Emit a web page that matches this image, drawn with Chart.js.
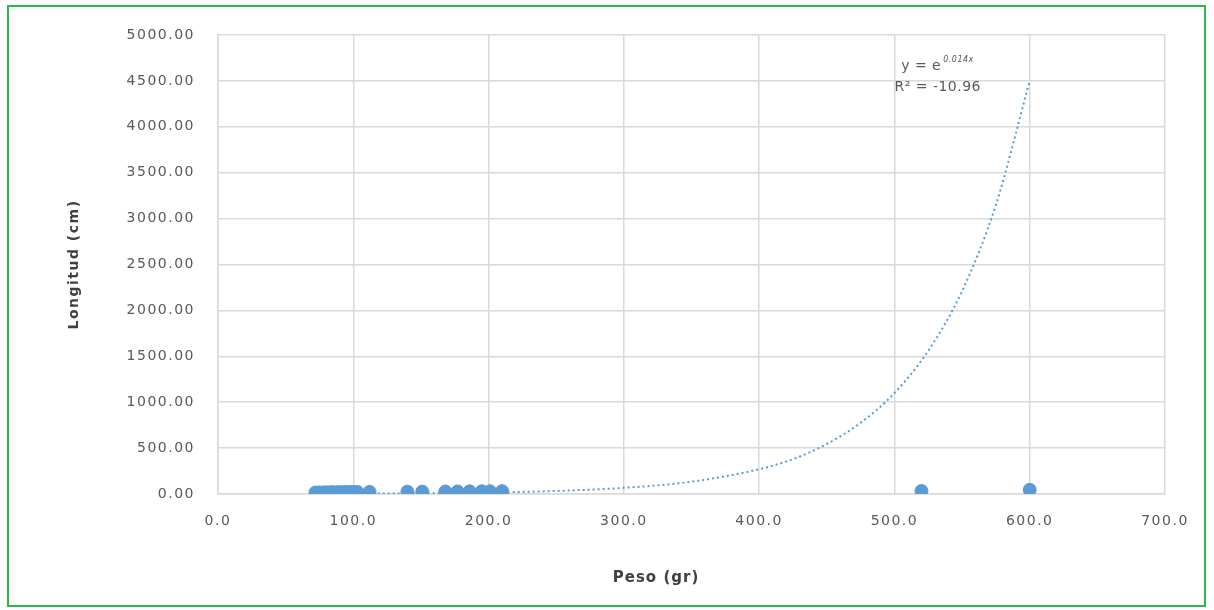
<!DOCTYPE html>
<html>
<head>
<meta charset="utf-8">
<script src="https://cdn.jsdelivr.net/npm/chart.js@4.4.1/dist/chart.umd.min.js"></script>
<style>
    html, body { margin: 0; padding: 0; background: #fff; }
    #wrap { position: relative; width: 1214px; height: 610px; }
    #frame {
        position: absolute; left: 7px; top: 5px;
        width: 1195px; height: 598px;
        border: 2px solid #2db84d; pointer-events: none;
    }
    canvas { position: absolute; left: 0; top: 0; }
</style>
</head>
<body>
<div id="wrap">
    <canvas id="peso-chart" width="1214" height="610"></canvas>
    <div id="frame"></div>
</div>
<script>
// datos medidos: peso (gr) y longitud (cm)
const pesoGr = [72, 75, 78, 80, 83, 85, 88, 90, 93, 95, 98, 100, 103, 112, 140, 151, 168, 177, 186, 195, 201, 210, 520, 600];
const longitudCm = [16, 17, 17, 18, 18, 19, 19, 20, 20, 21, 21, 22, 22, 23, 25, 26, 27, 28, 29, 30, 30, 31, 33, 45];

// linea de tendencia exponencial
const trendPeso = [70, 100, 150, 200, 250, 300, 350, 400, 425, 450, 475, 500, 525, 550, 575, 600];
const trendLongitud = [3, 4, 8, 16, 33, 67, 134, 270, 380, 545, 775, 1100, 1560, 2210, 3150, 4500];

const trendEquation = "y = e";
const trendExponent = "0.014x";
const trendR2 = "R² = -10.96";
const xTitle = "Peso (gr)";
const yTitle = "Longitud (cm)";

const BLUE = "#5B9BD5";
const GRID = "#d9d9d9";
const TEXT = "#595959";
const FONT = "'DejaVu Sans', sans-serif";

const spacingPlugin = {
    id: "spacing",
    beforeUpdate: (chart) => { chart.ctx.letterSpacing = "1.5px"; },
    beforeDraw: (chart) => { chart.ctx.letterSpacing = "1.5px"; },
};

const notesPlugin = {
    id: "notes",
    afterDraw: (chart) => {
        const ctx = chart.ctx;
        const xs = chart.scales.x;
        const ys = chart.scales.y;
        ctx.save();
        ctx.letterSpacing = "0.5px";
        ctx.fillStyle = TEXT;
        ctx.textBaseline = "middle";
        ctx.textAlign = "left";
        ctx.font = "14px " + FONT;
        const eqX = xs.getPixelForValue(505);
        const eqY = ys.getPixelForValue(4660);
        ctx.fillText(trendEquation, eqX, eqY);
        const w = ctx.measureText(trendEquation).width;
        ctx.font = "italic 8px " + FONT;
        ctx.fillText(trendExponent, eqX + w + 2, eqY - 6);
        ctx.font = "14px " + FONT;
        ctx.fillText(trendR2, xs.getPixelForValue(500), ys.getPixelForValue(4430));

        ctx.letterSpacing = "1px";
        ctx.font = "bold 15px " + FONT;
        ctx.textAlign = "center";
        ctx.fillStyle = "#404040";
        ctx.fillText(xTitle, 656, 578);
        ctx.restore();
    },
};

const chart = new Chart(document.getElementById("peso-chart"), {
    type: "scatter",
    data: {
        datasets: [
            {
                label: "Longitud",
                data: pesoGr.map((p, i) => ({ x: p, y: longitudCm[i] })),
                backgroundColor: BLUE,
                borderColor: BLUE,
                pointRadius: 6.5,
                order: 1,
            },
            {
                label: "Tendencia",
                type: "line",
                data: trendPeso.map((p, i) => ({ x: p, y: trendLongitud[i] })),
                borderColor: BLUE,
                borderWidth: 2,
                borderDash: [2, 3],
                pointRadius: 0,
                fill: false,
                cubicInterpolationMode: "monotone",
                order: 0,
            },
        ],
    },
    options: {
        responsive: false,
        animation: false,
        layout: {
            padding: { left: 62, right: 49, top: 35, bottom: 19 },
        },
        plugins: {
            legend: { display: false },
            tooltip: { enabled: false },
        },
        scales: {
            x: {
                type: "linear",
                min: 0,
                max: 700,
                ticks: {
                    stepSize: 100,
                    padding: 19,
                    color: TEXT,
                    font: { family: FONT, size: 14 },
                    callback: (v) => v.toFixed(1),
                    maxRotation: 0,
                },
                grid: { color: GRID, lineWidth: 1.5, drawTicks: false },
                border: { color: GRID, width: 1.5 },
                afterFit: (scale) => { scale.height = 97; },
            },
            y: {
                min: 0,
                max: 5000,
                ticks: {
                    stepSize: 500,
                    padding: 23,
                    color: TEXT,
                    font: { family: FONT, size: 14 },
                    callback: (v) => v.toFixed(2),
                },
                grid: { color: GRID, lineWidth: 1.5, drawTicks: false },
                border: { color: GRID, width: 1.5 },
                title: {
                    display: true,
                    text: yTitle,
                    color: "#404040",
                    font: { family: FONT, size: 14, weight: "bold" },
                    padding: { top: 4, bottom: 4 },
                },
                afterFit: (scale) => { scale.width = 156; },
            },
        },
    },
    plugins: [spacingPlugin, notesPlugin],
});
</script>
</body>
</html>
